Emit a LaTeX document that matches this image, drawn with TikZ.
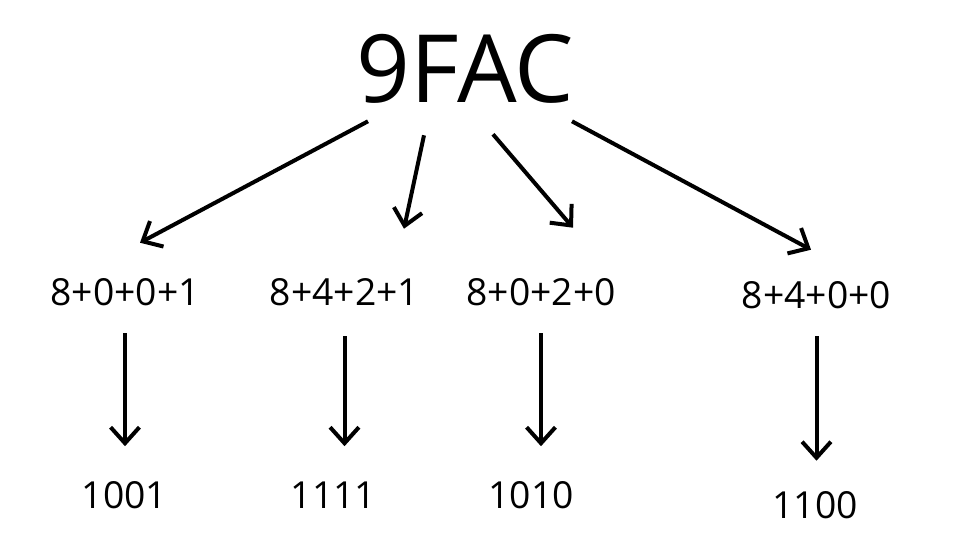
\documentclass[tikz,border=0pt]{standalone}
\usepackage{fontspec}
\setmainfont{Open Sans}
\usetikzlibrary{arrows.meta}
\begin{document}
\begin{tikzpicture}
[x=0.025cm,y=-0.025cm,
  hexdecorate/.style={inner sep=0pt,text height=1.625cm,text depth=0pt,
    font=\fontsize{67}{72}\selectfont},
  sumdecorate/.style={inner sep=0pt,text height=0.65cm,text depth=0pt,
    font=\fontsize{26.5}{30}\selectfont},
  arrowdecorate/.style={-{Straight Barb[length=0.4cm,width=0.72cm]},
    line width=0.1cm}]
\useasboundingbox[fill=white] (0,0) rectangle (972,535);
%% hex number
\node (top) at (465.5,70) [hexdecorate] {9FAC};
%% sums of place values
\foreach \nodename/\x/\y/\txt in {s1/125/292/8+0+0+1, s2/344.5/292/8+4+2+1,
  s3/541/292/8+0+2+0, s4/816.5/295/8+4+0+0} {
  \node (\nodename) at (\x,\y) [sumdecorate] {\txt};
}
%% binary digits
\foreach \nodename/\x/\y/\txt in {b1/124.5/495.5/1001, b2/333.5/495.5/1111,
  b3/531/495.5/1010, b4/815/505/1100} {
  \node (\nodename) at (\x,\y) [sumdecorate] {\txt};
}
%% arrows from the hex number
\foreach \endnode/\ax/\ay/\bx/\by in {s1/-97.5/18.5/15/-36,
  s2/-41.5/32.5/59.5/-50, s3/27.5/31.5/32/-51, s4/106.5/18.5/-5.5/-32} {
  \draw[arrowdecorate] ([shift={(\ax,\ay)}]top.south)
    -- ([shift={(\bx,\by)}]\endnode.north);
}
%% arrows down to the binary digits
\foreach \i/\sa/\sb in {1/0.7/0.9, 2/0.775/0.9, 3/0.7/0.9, 4/0.7/0.775} {
  \draw[arrowdecorate,shorten <=\sa cm,shorten >=\sb cm]
    (s\i.south) -- (s\i.south |- b\i.north);
}
\end{tikzpicture}
\end{document}
